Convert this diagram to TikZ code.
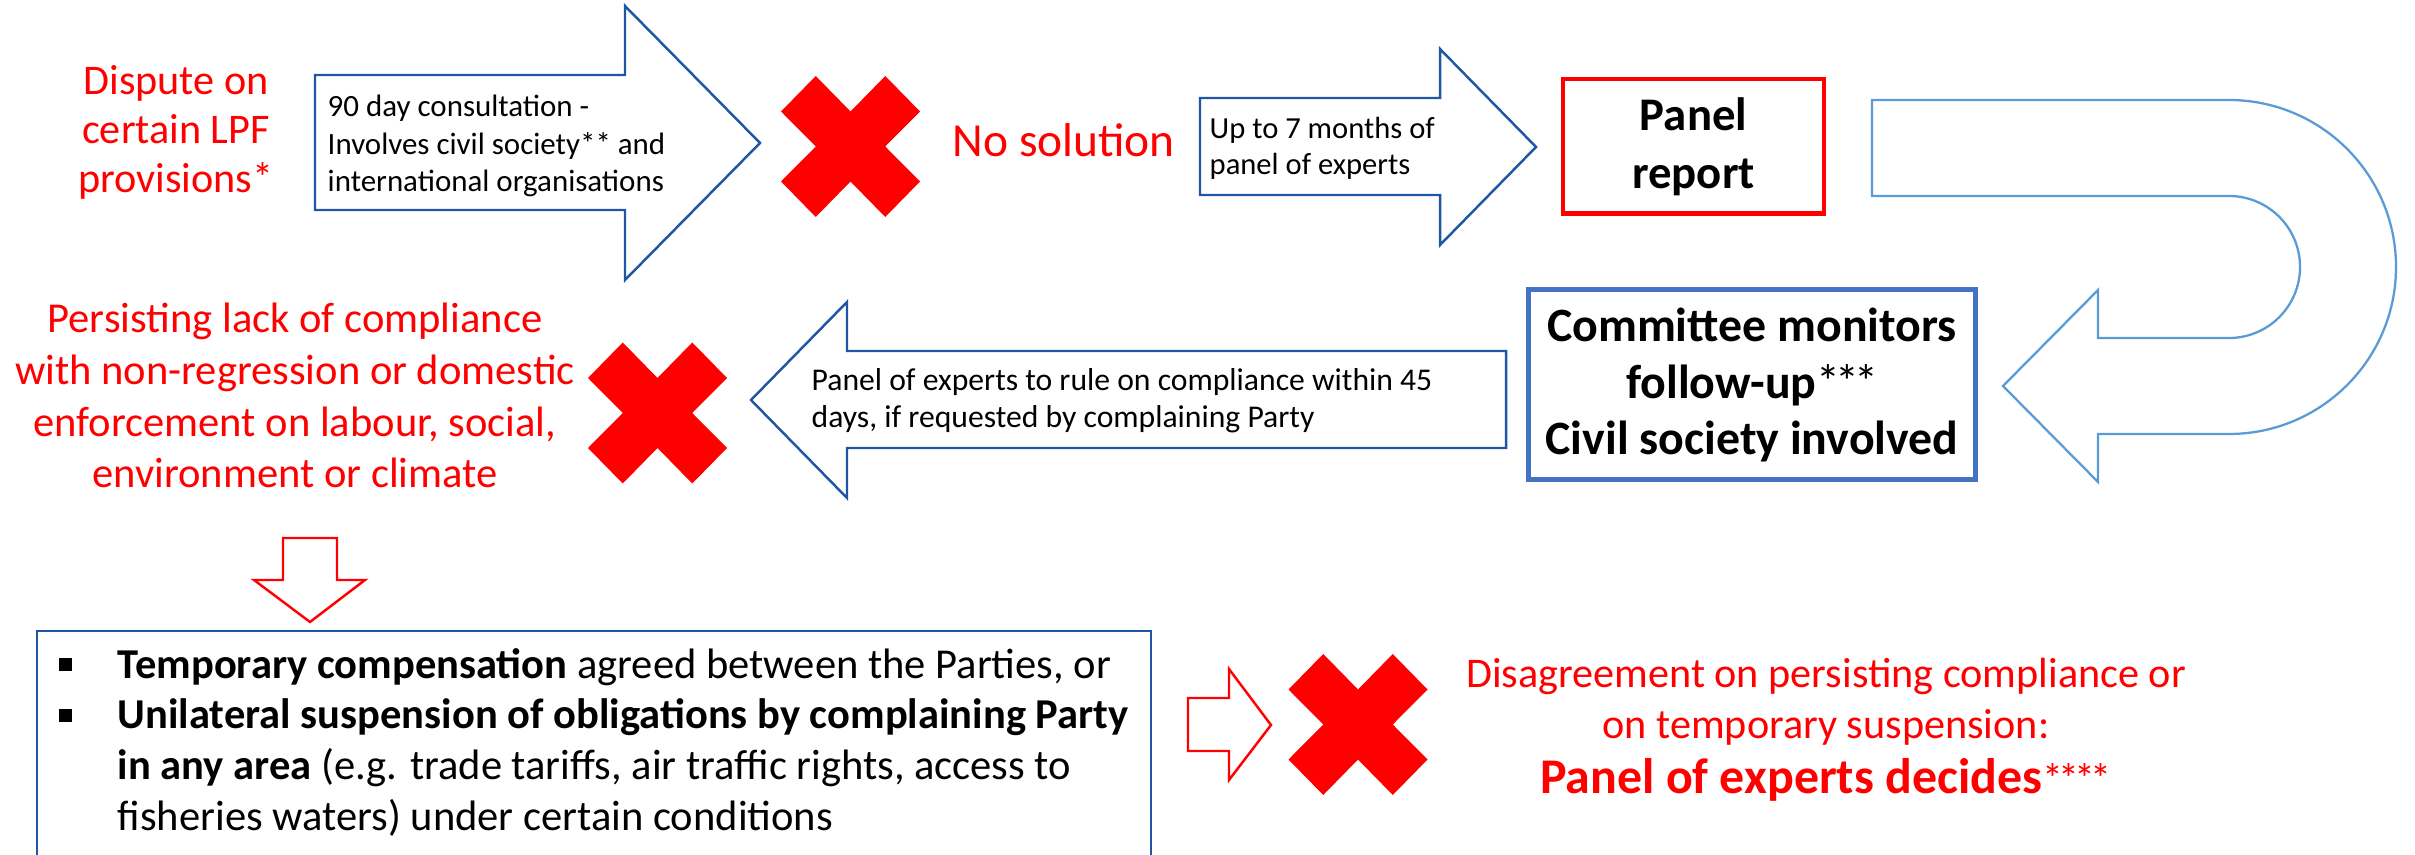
\documentclass[tikz,border=0pt]{standalone}
\usepackage{fontspec}
\setmainfont{Carlito}
\definecolor{arrowblue}{RGB}{31,86,166}
\definecolor{ublue}{RGB}{91,155,213}
\definecolor{cblue}{RGB}{68,114,196}
\newcommand\bsq{\makebox[16.8pt][l]{\raisebox{2pt}{\rule{3.7pt}{3.7pt}}}}
\newcommand\tightast{*\kern-1.4pt}
\begin{document}
\begin{tikzpicture}[x=0.01cm,y=-0.01cm,
  blockarrow/.style={draw=arrowblue, line width=0.7pt, line join=miter},
  redarrow/.style={draw=red, line width=0.7pt, line join=miter},
  uarrow/.style={draw=ublue, line width=0.65pt},
  redtxt/.style={text=red, inner sep=0pt},
  arrowtxt/.style={align=left, anchor=base west, inner sep=0pt},
  redx/.pic={\fill[red] (-69.5,-35) -- (-34.75,-70.5) -- (0,-35) -- (34.75,-70.5) -- (69.5,-35) -- (34.75,0) -- (69.5,35) -- (34.75,70.5) -- (0,35) -- (-34.75,70.5) -- (-69.5,35) -- (-34.75,0) -- cycle;}
]
\useasboundingbox (0,0) rectangle (2415,855);

% block arrows
\draw[blockarrow] (315,75) -- (625,75) -- (625,6) -- (760,143) -- (625,280) -- (625,210) -- (315,210) -- cycle;
\draw[blockarrow] (1200,98) -- (1440,98) -- (1440,49) -- (1536,147) -- (1440,245) -- (1440,195) -- (1200,195) -- cycle;
\draw[blockarrow] (1506,351) -- (847,351) -- (847,302) -- (751,400) -- (847,498) -- (847,448) -- (1506,448) -- cycle;

% U-turn arrow
\draw[uarrow] (1872,100) -- (2229,100)
  .. controls (2321.2,100) and (2396,174.8) .. (2396,267)
  .. controls (2396,359.2) and (2321.2,434) .. (2229,434)
  -- (2098,434) -- (2098,482) -- (2003,386) -- (2098,290) -- (2098,338) -- (2229,338)
  .. controls (2268.2,338) and (2300,306.2) .. (2300,267)
  .. controls (2300,227.8) and (2268.2,196) .. (2229,196)
  -- (1872,196) -- cycle;

% red arrows
\draw[redarrow] (283,538) -- (337,538) -- (337,580) -- (365,580) -- (310,622) -- (254,580) -- (283,580) -- cycle;
\draw[redarrow] (1188,698) -- (1229,698) -- (1229,669) -- (1271,725) -- (1229,780) -- (1229,751) -- (1188,751) -- cycle;

% red crosses
\pic at (850.5,146.5) {redx};
\pic at (657.5,413) {redx};
\pic at (1358,724.5) {redx};

% texts (anchor=base is the baseline of the last line)
\node[redtxt, font=\fontsize{12}{14}\selectfont, align=center, anchor=base] (dispute) at (176,193) {Dispute on\\certain LPF\\provisions*};
\node[arrowtxt, font=\fontsize{8.8}{10.7}\selectfont] (consult) at (327,192) {90 day consultation -\\Involves civil society** and\\international organisations};
\node[redtxt, font=\fontsize{13.5}{15}\selectfont, anchor=base west] (nosol) at (952,157) {No solution};
\node[arrowtxt, font=\fontsize{8.7}{10.5}\selectfont] (months) at (1209,175) {Up to 7 months of\\panel of experts};

\node[draw=red, line width=1.3pt, minimum width=2.605cm, minimum height=1.345cm, align=center, inner sep=0pt,
  font=\bfseries\fontsize{13.3}{16.5}\selectfont] (panel) at (1693.5,146.5) {Panel\\report};

\node[draw=cblue, line width=1.4pt, minimum width=4.47cm, minimum height=1.90cm, inner sep=0pt] (committee) at (1752,384.5) {};
\node[align=center, anchor=base, inner sep=0pt, font=\bfseries\fontsize{13.6}{16.1}\selectfont] (committeetxt) at (1752,455)
 {Committee monitors\\follow-up{\mdseries\tightast\tightast*}\\Civil society involved};

\node[arrowtxt, font=\fontsize{9}{10.8}\selectfont] (rule) at (811,428) {Panel of experts to rule on compliance within 45\\days, if requested by complaining Party};

\node[redtxt, font=\fontsize{12.1}{14.7}\selectfont, align=center, anchor=base] (persist) at (295,488) {Persisting lack of compliance\\with non-regression or domestic\\enforcement on labour, social,\\environment or climate};

\node[draw=arrowblue, line width=0.7pt, anchor=north west, minimum width=11.13cm, minimum height=2.6cm, inner sep=0pt] (box) at (36,630) {};
\node[anchor=base west, align=left, inner sep=0pt, font=\fontsize{12.1}{14.4}\selectfont] (measures) at (58,830)
 {\bsq\textbf{Temporary compensation} agreed between the Parties, or\\
  \bsq\textbf{Unilateral suspension of obligations by complaining Party}\\
  \hspace*{16.8pt}\textbf{in any area} (e.g. trade tariffs, air traffic rights, access to\\
  \hspace*{16.8pt}fisheries waters) under certain conditions};

\node[redtxt, align=center, anchor=base, font=\fontsize{12}{14.5}\selectfont] (disagree) at (1826,793)
 {Disagreement on persisting compliance or\\on temporary suspension:\\[1pt]{\fontsize{14.2}{15.6}\selectfont\bfseries Panel of experts decides}\tightast\tightast\tightast*};
\end{tikzpicture}
\end{document}
